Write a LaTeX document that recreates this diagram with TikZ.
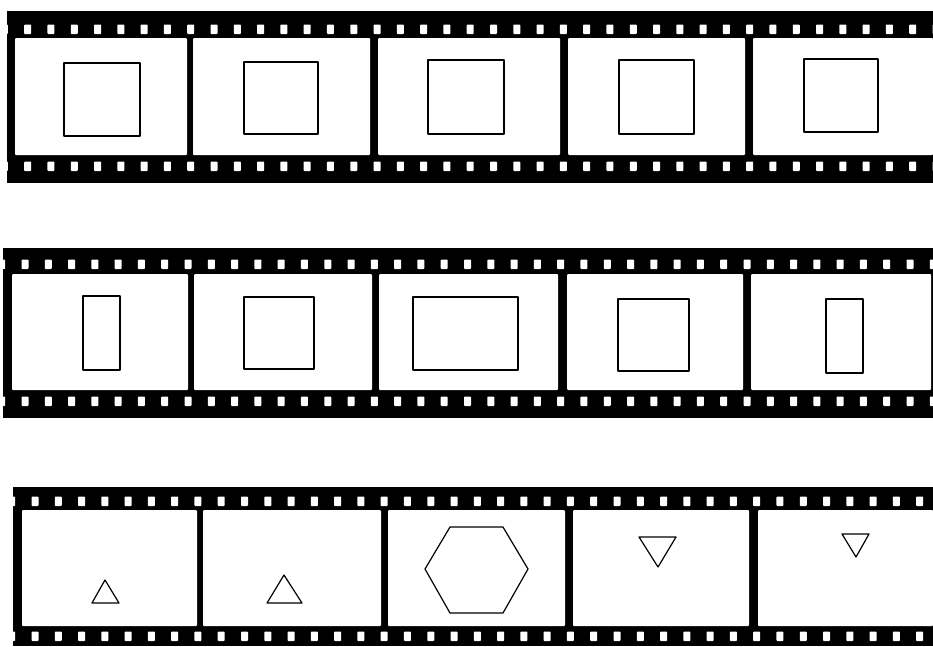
\documentclass[tikz,border=0pt]{standalone}
\begin{document}
\begin{tikzpicture}[x=1pt,y=-1pt,
  film/.style={fill=black},
  framewin/.style={fill=white,rounded corners=1pt},
  hole/.style={fill=white,rounded corners=0.8pt},
  figline/.style={draw=black,line width=1.2pt,line join=round,fill=white}]
\useasboundingbox[fill=white] (0,0) rectangle (933,646);

% ---------- Strip 1 ----------
\fill[film] (7,11) rectangle (933,183);
\foreach \a/\b in {15/187,193/370,378/560,568/745,753/933}
  \fill[framewin] (\a,38) rectangle (\b,155);
\foreach \i in {-1,...,39}{
  \pgfmathsetmacro\cx{27.7+23.29*\i}
  \fill[hole] (\cx-3.5,24.5) rectangle (\cx+3.5,34);
  \fill[hole] (\cx-3.5,161.5) rectangle (\cx+3.5,171);
}
\draw[figline] (64,63) rectangle (140,136);
\draw[figline] (244,62) rectangle (318,134);
\draw[figline] (428,60) rectangle (504,134);
\draw[figline] (619,60) rectangle (694,134);
\draw[figline] (804,59) rectangle (878,132);

% ---------- Strip 2 ----------
\fill[film] (3,248) rectangle (933,418);
\foreach \a/\b in {12/188,194/372,379/558,567/743,751/931}
  \fill[framewin] (\a,274) rectangle (\b,390);
\foreach \i in {-1,...,39}{
  \pgfmathsetmacro\cx{25+23.29*\i}
  \fill[hole] (\cx-3.5,259.5) rectangle (\cx+3.5,269);
  \fill[hole] (\cx-3.5,396.5) rectangle (\cx+3.5,406);
}
\draw[figline] (83,296) rectangle (120,370);
\draw[figline] (244,297) rectangle (314,369);
\draw[figline] (413,297) rectangle (518,370);
\draw[figline] (618,299) rectangle (689,371);
\draw[figline] (826,299) rectangle (863,373);

% ---------- Strip 3 ----------
\fill[film] (13,487) rectangle (933,646);
\foreach \a/\b in {22/197,203/381,388/565,573/749,758/933}
  \fill[framewin] (\a,510) rectangle (\b,626);
\foreach \i in {-1,...,39}{
  \pgfmathsetmacro\cx{35+23.28*\i}
  \fill[hole] (\cx-3.5,496.5) rectangle (\cx+3.5,506);
  \fill[hole] (\cx-3.5,631.5) rectangle (\cx+3.5,641);
}
\draw[figline] (105,580) -- (119,603) -- (92,603) -- cycle;
\draw[figline] (284,575) -- (302,603) -- (267,603) -- cycle;
\draw[figline] (450,527) -- (503,527) -- (528,569) -- (503,613) -- (450,613) -- (425,569) -- cycle;
\draw[figline] (639,537) -- (676,537) -- (658,567) -- cycle;
\draw[figline] (842,534) -- (869,534) -- (856,557) -- cycle;
\end{tikzpicture}
\end{document}
